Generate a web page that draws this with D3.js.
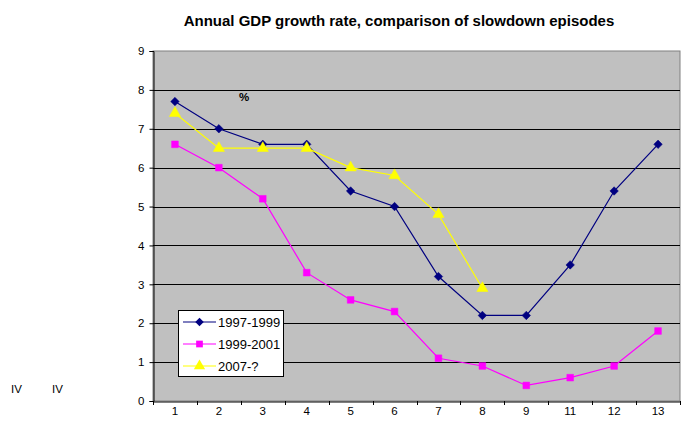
<!DOCTYPE html>
<html><head><meta charset="utf-8">
<script src="https://cdn.jsdelivr.net/npm/d3@7"></script>
<style>body{margin:0;background:#fff;font-family:"Liberation Sans",Arial,sans-serif}</style>
</head><body><svg id="c" width="687" height="426"></svg>
<script>
const categories = ["1","2","3","4","5","6","7","8","9","11","12","13"];
const s1997 = [7.7,7.0,6.6,6.6,5.4,5.0,3.2,2.2,2.2,3.5,5.4,6.6];
const s1999 = [6.6,6.0,5.2,3.3,2.6,2.3,1.1,0.9,0.4,0.6,0.9,1.8];
const s2007 = [7.4,6.5,6.5,6.5,6.0,5.8,4.8,2.9];
const yTicks = [0,1,2,3,4,5,6,7,8,9];
const seriesNames = ["1997-1999","1999-2001","2007-?"];
const colors = ["#000080","#FF00FF","#FFFF00"];

const FF="'Liberation Sans',Arial,sans-serif";
const svg = d3.select("#c").attr("font-family",FF);
const L=153,R=680,T=51,B=401;
const x = d3.scaleBand().domain(categories).range([L,R]);
const y = d3.scaleLinear().domain([0,9]).range([B,T]);

svg.append("rect").attr("x",L).attr("y",T).attr("width",R-L).attr("height",B-T).attr("fill","#C0C0C0").attr("stroke","#808080").attr("stroke-width",1);
svg.append("g").selectAll("line").data(yTicks.filter(d=>d>0&&d<9)).join("line")
 .attr("x1",L).attr("x2",R).attr("y1",d=>Math.round(y(d))+0.5).attr("y2",d=>Math.round(y(d))+0.5).attr("stroke","#000").attr("stroke-width",1);

const ya = d3.axisLeft(y).tickValues(yTicks).tickSize(4).tickFormat(d3.format("d"));
svg.append("g").attr("transform",`translate(${L+0.5},0)`).call(ya)
 .call(g=>{g.select(".domain").attr("stroke","#000");g.selectAll("text").attr("font-family",FF).attr("font-size",11.5).attr("fill","#000").attr("dx",-2);});

const xa = d3.axisBottom(x).tickSize(0).tickSizeOuter(0);
const xg = svg.append("g").attr("transform",`translate(0,${B+0.5})`).call(xa);
xg.select(".domain").attr("stroke","#000");
xg.selectAll("text").attr("font-family",FF).attr("font-size",11.5).attr("fill","#000").attr("dy",10);
svg.append("g").selectAll("line").data(d3.range(categories.length+1)).join("line")
 .attr("x1",i=>Math.round(L+i*x.step())+0.5).attr("x2",i=>Math.round(L+i*x.step())+0.5)
 .attr("y1",B).attr("y2",B+4).attr("stroke","#000");

const data=[s1997,s1999,s2007];
const cx=i=>x(categories[i])+x.bandwidth()/2;
const line=d3.line().x((d,i)=>cx(i)).y(d=>y(d));
const sym=[d3.symbolSquare,d3.symbolSquare,d3.symbolTriangle];
const symSize=[36,45,55];
const rot=[45,0,0];
data.forEach((s,k)=>{
  svg.append("path").datum(s).attr("d",line).attr("fill","none").attr("stroke",colors[k]).attr("stroke-width",1.2);
  svg.append("g").selectAll("path").data(s).join("path")
   .attr("transform",(d,i)=>`translate(${cx(i)},${y(d)}) rotate(${rot[k]})`)
   .attr("d",d3.symbol(sym[k],symSize[k])).attr("fill",colors[k]).attr("stroke",colors[k]).attr("stroke-width",0.5);
});

svg.append("text").attr("x",399).attr("y",26).attr("text-anchor","middle").attr("font-weight",700).attr("font-size",15).text("Annual GDP growth rate, comparison of slowdown episodes");
svg.append("text").attr("x",244).attr("y",101).attr("text-anchor","middle").attr("font-weight",700).attr("font-size",11.5).text("%");
svg.append("text").attr("x",11).attr("y",393).attr("font-size",11.5).text("IV");
svg.append("text").attr("x",52).attr("y",393).attr("font-size",11.5).text("IV");

const lg=svg.append("g");
lg.append("rect").attr("x",178.5).attr("y",310.5).attr("width",105).attr("height",66).attr("fill","#fff").attr("stroke","#000");
seriesNames.forEach((n,k)=>{
  const yy=322+k*22;
  lg.append("line").attr("x1",183).attr("x2",216).attr("y1",yy).attr("y2",yy).attr("stroke",colors[k]).attr("stroke-width",1.2);
  lg.append("path").attr("transform",`translate(199.5,${yy}) rotate(${rot[k]})`).attr("d",d3.symbol(sym[k],symSize[k])).attr("fill",colors[k]);
  lg.append("text").attr("x",218).attr("y",yy+4.5).attr("font-size",13).text(n);
});
</script></body></html>
